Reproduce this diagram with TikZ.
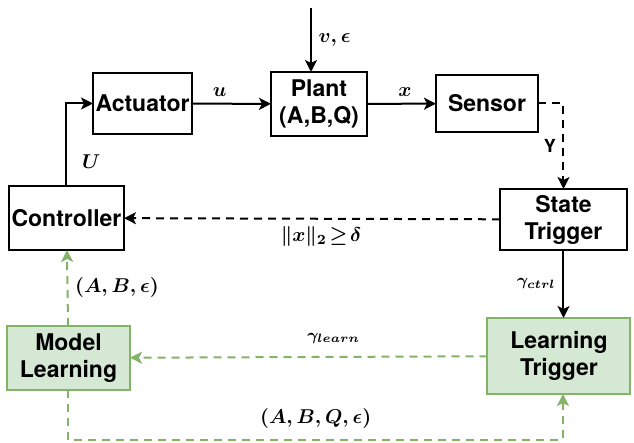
\documentclass[tikz,border=0pt]{standalone}
\usepackage{amsmath, amssymb}
\usepackage{fontspec}
\setsansfont{TeX Gyre Heros}
\usepackage{tikz}
\usetikzlibrary{arrows.meta}
\usepackage{xcolor}
\definecolor{learnfill}{HTML}{D5E8D4}
\definecolor{learnline}{HTML}{82B366}

\begin{document}
\begin{tikzpicture}[x=0.5pt, y=-0.5pt,
    block/.style={draw, line width=1pt, inner sep=0pt, outer sep=0pt, align=center,
      font=\fontsize{11.5}{13.5}\selectfont\sffamily\bfseries},
    learnblock/.style={block, draw=learnline, fill=learnfill},
    arr/.style={-{Stealth[length=6pt, width=6pt, inset=1.5pt]}, line width=1pt},
    dasharr/.style={arr, dash pattern=on 4pt off 3pt},
    learnarr/.style={dasharr, draw=learnline},
    lbl/.style={font=\fontsize{10}{12}\selectfont},
    smalllbl/.style={font=\fontsize{8.5}{10}\selectfont}]
  \useasboundingbox (0,0) rectangle (634,443);

  \node[block, minimum width=49.5pt, minimum height=30.5pt] (act) at (142.5,103.5) {Actuator};
  \node[block, minimum width=48pt, minimum height=32pt] (plant) at (319,104) {Plant\\(A,B,Q)};
  \node[block, minimum width=51pt, minimum height=28.5pt] (sensor) at (487,103.5) {Sensor};
  \node[block, minimum width=57.5pt, minimum height=32pt] (ctrl) at (66.5,218) {Controller};
  \node[block, minimum width=63.5pt, minimum height=30.5pt] (state) at (563.5,219.5) {State\\Trigger};
  \node[learnblock, minimum width=61.5pt, minimum height=32pt] (model) at (68.5,358) {Model\\Learning};
  \node[learnblock, minimum width=71.5pt, minimum height=38pt] (ltrig) at (559,356) {Learning\\Trigger};
  \coordinate (noise) at (311,8);
  \coordinate (loop) at (563,440);

  \draw[arr] (noise) -- node[lbl, right] {$\boldsymbol{v,\epsilon}$} (noise |- plant.north);
  \draw[arr] (act) -- node[lbl, pos=0.35, above] {$\boldsymbol{u}$} (plant);
  \draw[arr] (plant) -- node[lbl, pos=0.55, above] {$\boldsymbol{x}$} (sensor);
  \draw[arr] (ctrl.north) |- node[lbl, pos=0.15, right, xshift=4pt] {$\boldsymbol{U}$} (act.west);
  \draw[dasharr] (sensor.east) -| node[pos=0.75, left, font=\fontsize{9}{11}\selectfont\sffamily\bfseries] {Y} (state.north);
  \draw[dasharr] (state) -- node[lbl, pos=0.476, below] {$\boldsymbol{\|x\|_2\!\geq\!\delta}$} (ctrl);
  \draw[arr] (state.south) -- node[smalllbl, left] {$\boldsymbol{\gamma_{ctrl}}$} (state.south |- ltrig.north);
  \draw[learnarr] (ltrig) -- node[smalllbl, pos=0.43, above, yshift=3pt] {$\boldsymbol{\gamma_{learn}}$} (model);
  \draw[learnarr] (model) -- node[lbl, right] {$\boldsymbol{(A,B,\epsilon)}$} (ctrl);
  \draw[learnarr] (model.south) |- node[lbl, pos=0.75, above, yshift=2pt] {$\boldsymbol{(A,B,Q,\epsilon)}$} (loop) -- (loop |- ltrig.south);
\end{tikzpicture}
\end{document}
